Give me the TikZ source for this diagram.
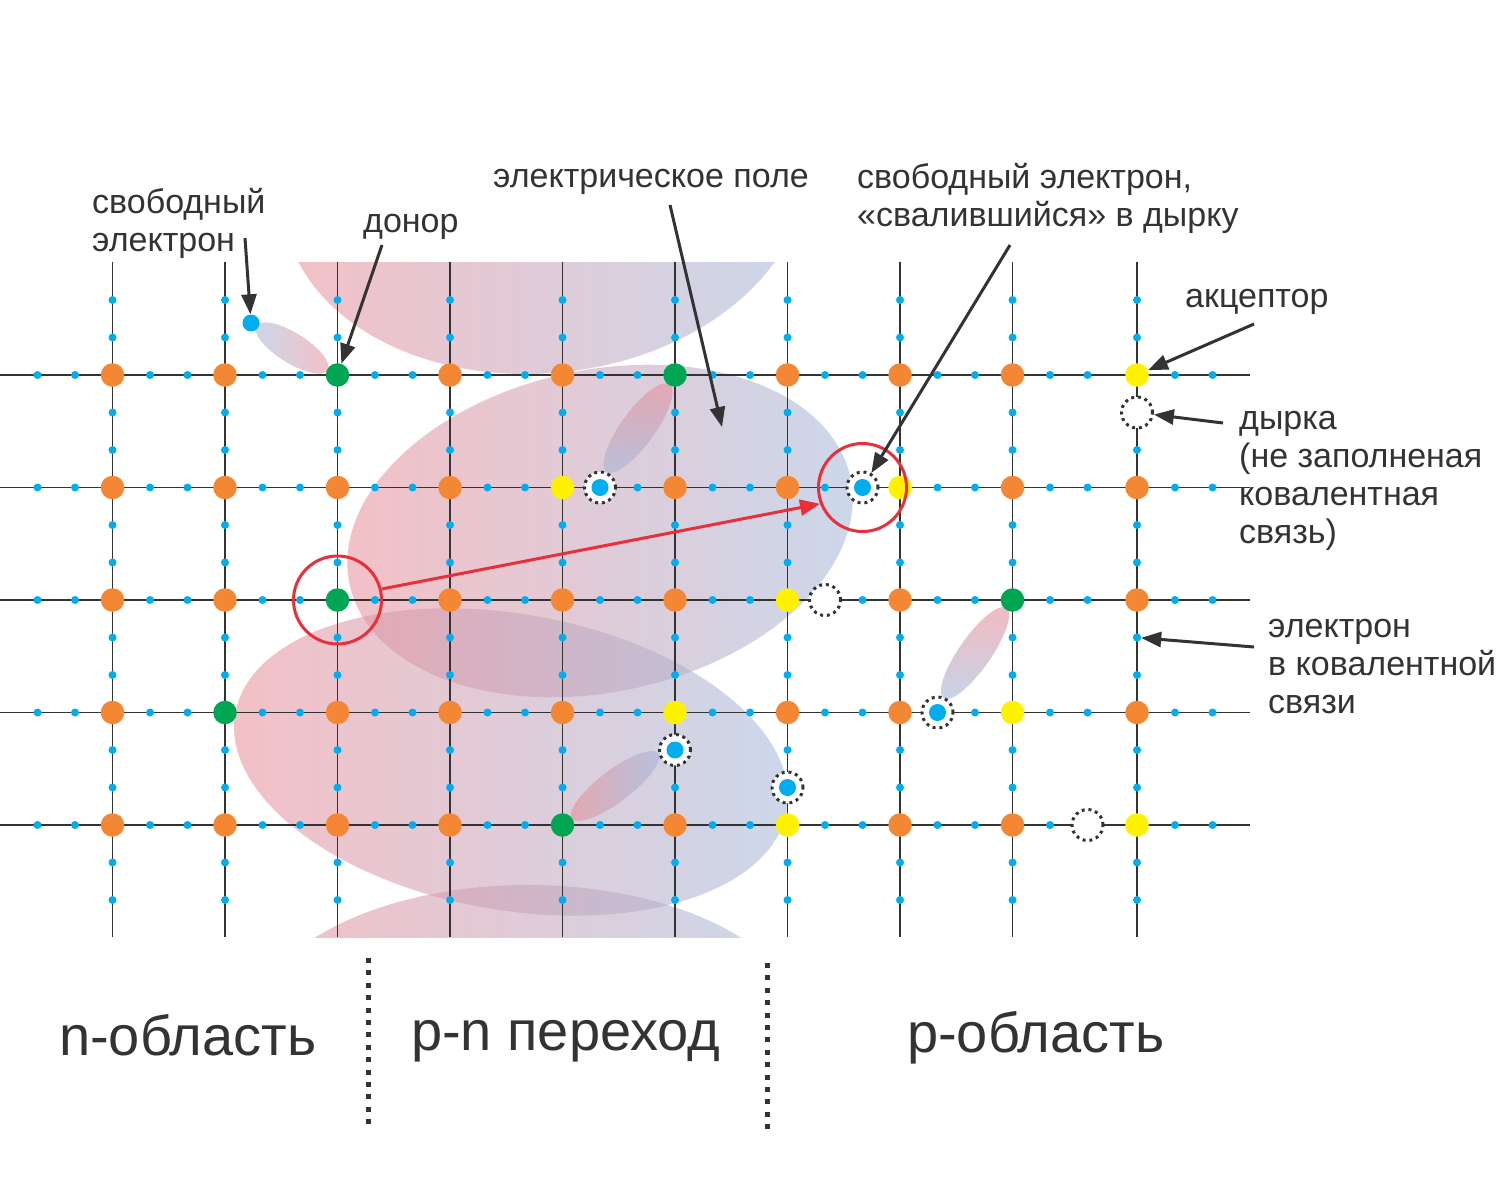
\documentclass[tikz,border=0pt]{standalone}
\usepackage{fontspec}
\setmainfont{Liberation Sans}
\usetikzlibrary{arrows.meta}
\definecolor{dk}{HTML}{333333}
\definecolor{orn}{HTML}{F48733}
\definecolor{grn}{HTML}{00A651}
\definecolor{ylw}{HTML}{FFF200}
\definecolor{cyn}{HTML}{00AEEF}
\definecolor{rd}{HTML}{E8303A}
\definecolor{pinkE}{RGB}{236,140,150}
\definecolor{blueE}{RGB}{160,185,220}
\tikzset{
  gridline/.style={draw=dk, line width=1.5pt},
  atom/.style={circle, inner sep=0pt, minimum size=23.5pt},
  elec/.style={circle, inner sep=0pt, minimum size=17pt, fill=cyn},
  hole/.style={circle, inner sep=0pt, minimum size=31pt, fill=white, draw=dk,
    line width=3pt, dash pattern=on 3pt off 3.8pt},
  bond/.style={circle, inner sep=0pt, minimum size=8pt, fill=cyn},
  field/.style={left color=pinkE, right color=blueE, fill opacity=0.55},
  ring/.style={circle, inner sep=0pt, minimum size=88pt, draw=rd, line width=3pt},
  blk/.style={draw=dk, line width=3pt, -{Triangle[length=20pt,width=15pt]}},
  redarrow/.style={draw=rd, line width=3pt, -{Triangle[length=20pt,width=16pt]}},
  lbl/.style={text=dk, font=\fontsize{34pt}{38pt}\selectfont, inner sep=0pt,
    align=left, anchor=base west},
  big/.style={text=dk, font=\fontsize{56pt}{60pt}\selectfont, inner sep=0pt,
    anchor=base west},
  sep/.style={draw=dk, line width=5pt, dash pattern=on 5pt off 7.4pt}
}
\begin{document}
\begin{tikzpicture}[x=1pt, y=-1pt]
\fill[white] (0,0) rectangle (1496,1200);
\useasboundingbox (0,0) rectangle (1496,1200);

% electric field clouds
\begin{scope}
  \clip (0,262) rectangle (1496,937);
  \foreach \cx/\cy/\a/\b/\r in {544/185/262/188/6, 600/531/256/161/12,
      511/762/280/148/-10, 528/1035/280/150/0}
    \shade[field, shift={(\cx,\cy)}, rotate=\r] (0,0) ellipse [x radius=\a, y radius=\b];
\end{scope}
% small clouds
\shade[left color=blueE, right color=pinkE, fill opacity=0.55, shift={(292,348)}, rotate=-32]
  (0,0) ellipse [x radius=42, y radius=15];
\shade[top color=pinkE, bottom color=blueE, fill opacity=0.6, shift={(638,428)}, rotate=54]
  (0,0) ellipse [x radius=54, y radius=17];
\shade[top color=pinkE, bottom color=blueE, fill opacity=0.6, shift={(975,653)}, rotate=55]
  (0,0) ellipse [x radius=55, y radius=16];
\shade[left color=pinkE, right color=blueE, fill opacity=0.6, shift={(615,786)}, rotate=37]
  (0,0) ellipse [x radius=54, y radius=16];

% lattice lines
\foreach \x in {112.5,225,337.5,450,562.5,675,787.5,900,1012.5,1137}
  \draw[gridline] (\x,262) -- (\x,937);
\foreach \y in {375,487.5,600,712.5,825}
  \draw[gridline] (0,\y) -- (1250,\y);

% bond electrons
\foreach \y in {375,487.5,600,712.5,825}
  \foreach \x in {37.5,75,150,187.5,262.5,300,375,412.5,487.5,525,600,637.5,
      712.5,750,825,862.5,937.5,975,1050,1087.5,1175,1212.5}
    \fill[cyn] (\x,\y) circle [radius=4];
\foreach \x in {112.5,225,337.5,450,562.5,675,787.5,900,1012.5,1137}
  \foreach \y in {300,337.5,412.5,450,525,562.5,637.5,675,750,787.5,862.5,900}
    \fill[cyn] (\x,\y) circle [radius=4];
\node[bond] (bondE) at (1137,637.5) {};

% atoms
\foreach \x/\y/\c [count=\i] in {
  112.5/375/orn, 225/375/orn, 450/375/orn, 562.5/375/orn, 675/375/grn,
  787.5/375/orn, 900/375/orn, 1012.5/375/orn,
  112.5/487.5/orn, 225/487.5/orn, 337.5/487.5/orn, 450/487.5/orn, 562.5/487.5/ylw,
  675/487.5/orn, 787.5/487.5/orn, 900/487.5/ylw, 1012.5/487.5/orn, 1137/487.5/orn,
  112.5/600/orn, 225/600/orn, 337.5/600/grn, 450/600/orn, 562.5/600/orn,
  675/600/orn, 787.5/600/ylw, 900/600/orn, 1012.5/600/grn, 1137/600/orn,
  112.5/712.5/orn, 225/712.5/grn, 337.5/712.5/orn, 450/712.5/orn, 562.5/712.5/orn,
  675/712.5/ylw, 787.5/712.5/orn, 900/712.5/orn, 1012.5/712.5/ylw, 1137/712.5/orn,
  112.5/825/orn, 225/825/orn, 337.5/825/orn, 450/825/orn, 562.5/825/grn,
  675/825/orn, 787.5/825/ylw, 900/825/orn, 1012.5/825/orn, 1137/825/ylw}
  \node[atom, fill=\c] (atom\i) at (\x,\y) {};
\node[atom, fill=grn] (donor) at (337.5,375) {};
\node[atom, fill=ylw] (acceptor) at (1137,375) {};

% holes and electrons in holes
\node[hole] (h1) at (600,487.5) {};
\node[elec] (e1) at (h1) {};
\node[hole] (h2) at (862.5,487.5) {};
\node[elec] (e2) at (h2) {};
\node[hole] (h3) at (937.5,712.5) {};
\node[elec] (e3) at (h3) {};
\node[hole] (h4) at (675,750) {};
\node[elec] (e4) at (h4) {};
\node[hole] (h5) at (787.5,787.5) {};
\node[elec] (e5) at (h5) {};
\node[hole] (hA) at (825,600) {};
\node[hole] (hB) at (1087.5,825) {};
\node[hole] (hC) at (1137,412.5) {};
\node[elec] (fe) at (251,323) {};

% red circles and transition
\node[ring] (rc1) at (337.5,600) {};
\node[ring] (rc2) at (862.5,487.5) {};
\draw[redarrow] (rc1.14) -- (rc2.201);

% labels (base anchor = baseline of the last line)
\node[lbl] (Lfree) at (92,251) {свободный\\электрон};
\node[lbl] (Ldonor) at (363,232) {донор};
\node[lbl] (Lfield) at (493,187) {электрическое поле};
\node[lbl] (Lfell) at (857,226) {свободный электрон,\\«свалившийся» в дырку};
\node[lbl] (Lacc) at (1185,307) {акцептор};
\node[lbl] (Lhole) at (1239,543) {дырка\\(не заполненая\\ковалентная\\связь)};
\node[lbl] (Lbond) at (1268,713) {электрон\\в ковалентной\\связи};

\coordinate (s1) at (245,238);
\coordinate (s2) at (382,245);
\coordinate (s3) at (670,205);
\coordinate (t3) at (722,427);
\coordinate (s4) at (1010,245);
\coordinate (s5) at (1254,324);
\coordinate (s6) at (1223,423);
\coordinate (s7) at (1254,647);
\draw[blk] (s1) -- (fe);
\draw[blk] (s2) -- (donor);
\draw[blk] (s3) -- (t3);
\draw[blk] (s4) -- (h2);
\draw[blk] (s5) -- (acceptor);
\draw[blk] (s6) -- (hC);
\draw[blk] (s7) -- (bondE);

% regions
\node[big] (Rn) at (59,1055) {n-область};
\node[big] (Rpn) at (411,1050) {p-n переход};
\node[big] (Rp) at (907,1052) {p-область};
\draw[sep] (368,958) -- (368,1127);
\draw[sep] (767,963) -- (767,1132);
\end{tikzpicture}
\end{document}
